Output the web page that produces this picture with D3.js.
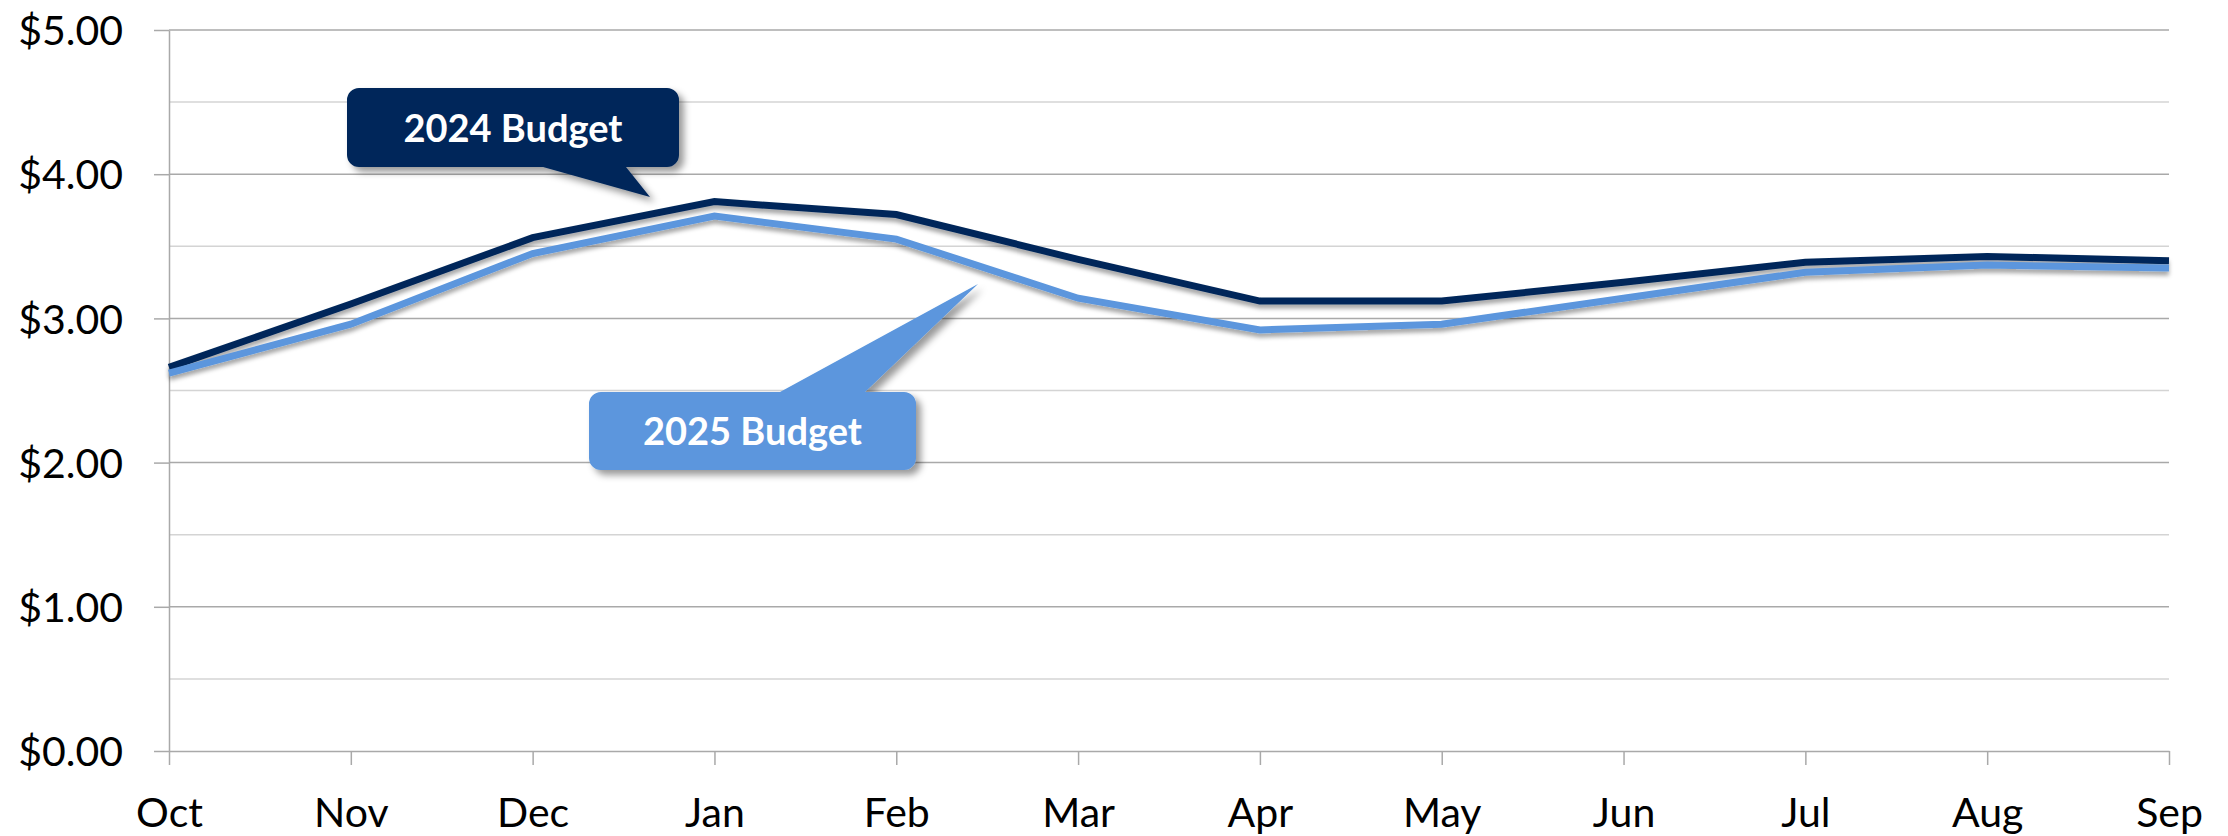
<!DOCTYPE html>
<html>
<head>
<meta charset="utf-8">
<script src="https://cdn.jsdelivr.net/npm/d3@7"></script>
<style>
  html, body { margin: 0; padding: 0; background: #fff; }
  #chart { width: 2228px; height: 836px; }
  text { font-family: Lato, "Open Sans", sans-serif; }
</style>
</head>
<body>
<div id="chart"></div>
<script>
// Data
const months = ['Oct', 'Nov', 'Dec', 'Jan', 'Feb', 'Mar', 'Apr', 'May', 'Jun', 'Jul', 'Aug', 'Sep'];
const budget2024 = [2.66, 3.10, 3.56, 3.81, 3.72, 3.41, 3.12, 3.12, 3.25, 3.39, 3.43, 3.40];
const budget2025 = [2.62, 2.96, 3.45, 3.71, 3.55, 3.14, 2.92, 2.96, 3.14, 3.32, 3.37, 3.35];
const yTicks = [0, 1, 2, 3, 4, 5];
const yMinor = [0.5, 1.5, 2.5, 3.5, 4.5];

const width = 2228, height = 836;
const margin = { left: 169, right: 59, top: 30, bottom: 85 };

const svg = d3.select('#chart').append('svg')
    .attr('width', width)
    .attr('height', height);

const defs = svg.append('defs');
defs.append('filter').attr('id', 'lineShadow')
    .attr('x', '-5%').attr('y', '-50%').attr('width', '110%').attr('height', '200%')
  .append('feDropShadow')
    .attr('dx', 0).attr('dy', 4).attr('stdDeviation', 2)
    .attr('flood-color', '#000').attr('flood-opacity', 0.35);
defs.append('filter').attr('id', 'boxShadow')
    .attr('x', '-20%').attr('y', '-30%').attr('width', '140%').attr('height', '170%')
  .append('feDropShadow')
    .attr('dx', 5).attr('dy', 5).attr('stdDeviation', 3.5)
    .attr('flood-color', '#000').attr('flood-opacity', 0.4);

const x = d3.scalePoint()
    .domain(months)
    .range([margin.left, width - margin.right]);

const y = d3.scaleLinear()
    .domain([0, 5])
    .range([height - margin.bottom, margin.top]);

// Gridlines
svg.append('g')
    .selectAll('line')
    .data(yMinor)
    .join('line')
    .attr('x1', margin.left).attr('x2', width - margin.right)
    .attr('y1', d => y(d)).attr('y2', d => y(d))
    .attr('stroke', '#d4d4d4').attr('stroke-width', 1.5);

svg.append('g')
    .selectAll('line')
    .data(yTicks.slice(1))
    .join('line')
    .attr('x1', margin.left).attr('x2', width - margin.right)
    .attr('y1', d => y(d)).attr('y2', d => y(d))
    .attr('stroke', '#a9a9a9').attr('stroke-width', 1.5);

// Y axis
const yAxis = svg.append('g')
    .attr('transform', `translate(${margin.left},0)`)
    .call(d3.axisLeft(y).tickValues(yTicks).tickSize(15).tickSizeOuter(0).tickFormat(d3.format('$.2f')));
yAxis.select('.domain').attr('stroke', '#a9a9a9').attr('stroke-width', 1.5);
yAxis.selectAll('.tick line').attr('stroke', '#a9a9a9').attr('stroke-width', 1.5);
yAxis.selectAll('.tick text')
    .attr('x', -46)
    .attr('dy', '0.36em')
    .attr('fill', '#000')
    .style('font-family', 'Lato, sans-serif')
    .style('font-size', '41px');

// X axis
const xAxis = svg.append('g')
    .attr('transform', `translate(0,${y(0)})`)
    .call(d3.axisBottom(x).tickSize(14).tickSizeOuter(0));
xAxis.select('.domain').attr('stroke', '#a9a9a9').attr('stroke-width', 1.5);
xAxis.selectAll('.tick line').attr('stroke', '#a9a9a9').attr('stroke-width', 1.5);
xAxis.selectAll('.tick text')
    .attr('y', 76)
    .attr('dy', 0)
    .attr('fill', '#000')
    .style('font-family', 'Lato, sans-serif')
    .style('font-size', '41px');

// Lines
const line = d3.line()
    .x((d, i) => x(months[i]))
    .y(d => y(d));

const series = [
  { name: '2024 Budget', values: budget2024, color: '#03285a' },
  { name: '2025 Budget', values: budget2025, color: '#5b96dd' }
];

svg.append('g')
    .selectAll('path')
    .data(series)
    .join('path')
    .attr('d', d => line(d.values))
    .attr('fill', 'none')
    .attr('stroke', d => d.color)
    .attr('stroke-width', 7)
    .attr('stroke-linejoin', 'miter')
    .attr('filter', 'url(#lineShadow)');

// Callout labels
const callouts = [
  { text: '2024 Budget', color: '#03285a', box: [347, 88, 679, 167], base: [543, 626], tip: [650, 197], side: 'bottom', baseline: 142 },
  { text: '2025 Budget', color: '#5b96dd', box: [589, 392, 916, 470], base: [780, 865], tip: [978, 284], side: 'top', baseline: 445 }
];

function calloutPath(c) {
  const [x0, y0, x1, y1] = c.box;
  const r = 12;
  const p = d3.path();
  p.moveTo(x0 + r, y0);
  if (c.side === 'top') {
    p.lineTo(c.base[0], y0);
    p.lineTo(c.tip[0], c.tip[1]);
    p.lineTo(c.base[1], y0);
  }
  p.lineTo(x1 - r, y0);
  p.arcTo(x1, y0, x1, y0 + r, r);
  p.lineTo(x1, y1 - r);
  p.arcTo(x1, y1, x1 - r, y1, r);
  if (c.side === 'bottom') {
    p.lineTo(c.base[1], y1);
    p.lineTo(c.tip[0], c.tip[1]);
    p.lineTo(c.base[0], y1);
  }
  p.lineTo(x0 + r, y1);
  p.arcTo(x0, y1, x0, y1 - r, r);
  p.lineTo(x0, y0 + r);
  p.arcTo(x0, y0, x0 + r, y0, r);
  p.closePath();
  return p.toString();
}

const cg = svg.append('g')
    .selectAll('g')
    .data(callouts)
    .join('g');

cg.append('path')
    .attr('d', calloutPath)
    .attr('fill', d => d.color)
    .attr('filter', 'url(#boxShadow)');

cg.append('text')
    .attr('x', d => (d.box[0] + d.box[2]) / 2)
    .attr('y', d => d.baseline)
    .attr('text-anchor', 'middle')
    .attr('fill', '#fff')
    .style('font-family', 'Lato, sans-serif')
    .style('font-weight', 'bold')
    .style('font-size', '38px')
    .text(d => d.text);
</script>
</body>
</html>
